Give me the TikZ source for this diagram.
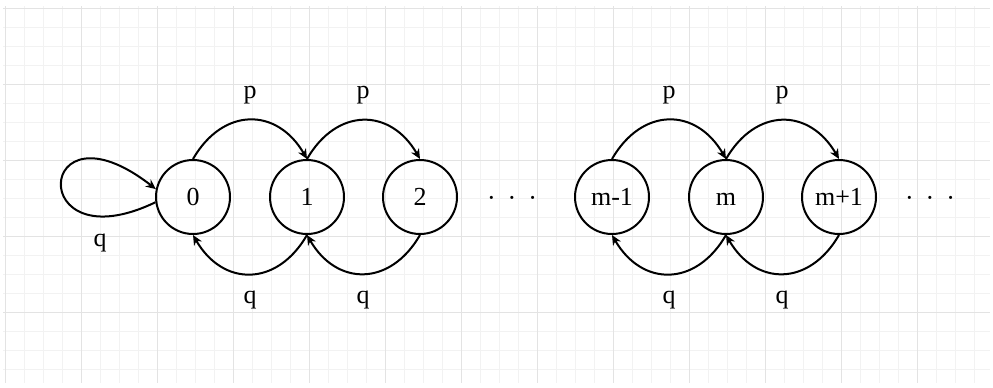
\documentclass[tikz,border=0pt]{standalone}
\usepackage{fontspec}
\setmainfont{Liberation Serif}
\usetikzlibrary{arrows.meta}
\begin{document}
\begin{tikzpicture}[x=1pt,y=1pt,
  state/.style={circle,draw,line width=2pt,minimum size=74pt,inner sep=0pt,text height=17.6pt,text depth=0pt,font=\fontsize{26}{28}\selectfont},
  lbl/.style={font=\fontsize{26}{28}\selectfont,inner sep=0pt},
  dotsnode/.style={font=\fontsize{26}{28}\selectfont,inner sep=0pt,anchor=base},
  edge/.style={line width=2pt,-{Stealth[length=10pt,width=9pt]}},
  minorline/.style={draw=black!5,line width=0.8pt},
  majorline/.style={draw=black!11,line width=0.9pt}]
\useasboundingbox (0,0) rectangle (993,-388);
\fill[white] (0,0) rectangle (993,-388);
% grid
\foreach \k in {0,...,51} \draw[minorline] ({5+19*\k},-6) -- ({5+19*\k},-383);
\foreach \k in {0,...,19} \draw[minorline] (3,{-8-19*\k}) -- (990,{-8-19*\k});
\foreach \k in {0,...,12} \draw[majorline] ({5+76*\k},-6) -- ({5+76*\k},-383);
\foreach \k in {0,...,4} \draw[majorline] (3,{-8-76*\k}) -- (990,{-8-76*\k});
% states
\node[state] (n0) at (193,-197) {0};
\node[state] (n1) at (307,-197) {1};
\node[state] (n2) at (420,-197) {2};
\node[state] (nm1) at (612,-197) {m-1};
\node[state] (nm) at (726,-197) {m};
\node[state] (nmp1) at (839,-197) {m+1};
\node[dotsnode] (d1) at (512,-206) {·\hspace{12pt}·\hspace{12pt}·};
\node[dotsnode] (d2) at (930,-206) {·\hspace{12pt}·\hspace{12pt}·};
% self loop
\draw[edge] (n0.188) .. controls (25,-265) and (35,-95) .. (n0.168);
\node[lbl] (q0) at (100,-243) {q};
% forward arcs
\draw[edge] (n0.north) to[out=60,in=120,looseness=1.35] (n1.north);
\draw[edge] (n1.north) to[out=60,in=120,looseness=1.35] (n2.north);
\draw[edge] (nm1.north) to[out=60,in=120,looseness=1.35] (nm.north);
\draw[edge] (nm.north) to[out=60,in=120,looseness=1.35] (nmp1.north);
% backward arcs
\draw[edge] (n1.south) to[out=-120,in=-60,looseness=1.35] (n0.south);
\draw[edge] (n2.south) to[out=-120,in=-60,looseness=1.35] (n1.south);
\draw[edge] (nm.south) to[out=-120,in=-60,looseness=1.35] (nm1.south);
\draw[edge] (nmp1.south) to[out=-120,in=-60,looseness=1.35] (nm.south);
% labels
\node[lbl] (p1) at (250,-95) {p};
\node[lbl] (p2) at (363,-95) {p};
\node[lbl] (p3) at (669,-95) {p};
\node[lbl] (p4) at (782,-95) {p};
\node[lbl] (q1) at (250,-300) {q};
\node[lbl] (q2) at (363,-300) {q};
\node[lbl] (q3) at (669,-300) {q};
\node[lbl] (q4) at (782,-300) {q};
\end{tikzpicture}
\end{document}
